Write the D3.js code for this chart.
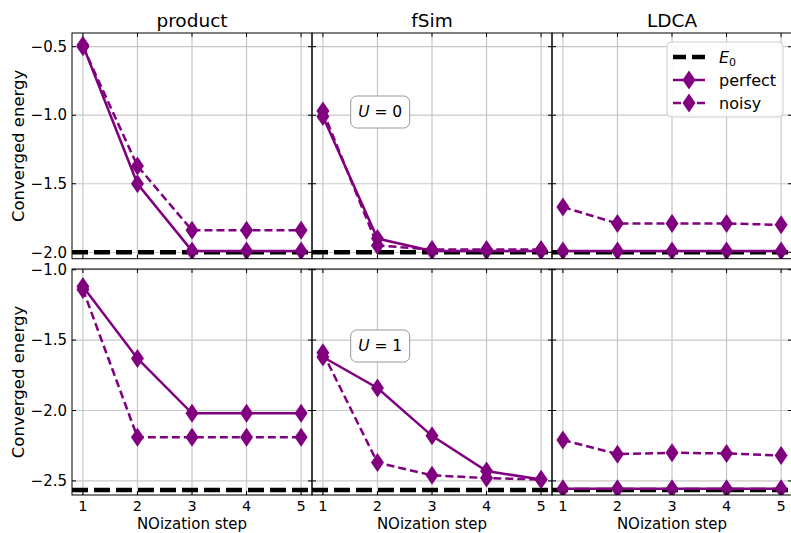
<!DOCTYPE html>
<html><head><meta charset="utf-8">
<script src="https://cdn.jsdelivr.net/npm/d3@7"></script>
<style>body{margin:0;background:#fff}svg{font-family:"DejaVu Sans",sans-serif}</style>
</head><body><svg id="c" width="791" height="533"></svg>
<script>
const steps = [1, 2, 3, 4, 5];
const methods = ["product", "fSim", "LDCA"];
const uLabels = ["0", "1"];
const groundEnergy = [-2.0, -2.565];
const yTicksTop = [-0.5, -1.0, -1.5, -2.0];
const yTicksBottom = [-1.0, -1.5, -2.0, -2.5];
// U = 0
const u0Perfect = [
  [-0.49, -1.50, -1.99, -1.99, -1.99],
  [-1.01, -1.90, -1.99, -1.99, -1.99],
  [-1.99, -1.99, -1.99, -1.99, -1.99]
];
const u0Noisy = [
  [-0.50, -1.37, -1.84, -1.84, -1.84],
  [-0.97, -1.95, -1.98, -1.98, -1.98],
  [-1.67, -1.79, -1.79, -1.79, -1.80]
];
// U = 1
const u1Perfect = [
  [-1.12, -1.63, -2.02, -2.02, -2.02],
  [-1.62, -1.84, -2.18, -2.43, -2.49],
  [-2.555, -2.555, -2.555, -2.555, -2.555]
];
const u1Noisy = [
  [-1.14, -2.19, -2.19, -2.19, -2.19],
  [-1.59, -2.37, -2.46, -2.48, -2.49],
  [-2.21, -2.31, -2.30, -2.305, -2.32]
];

const purple = "#800080";
const svg = d3.select("#c");
const colX = [72, 312, 552];
const panelW = 240;
const rows = [
  {top: 33, bottom: 258.7, domain: [-2.047, -0.40], ticks: yTicksTop, perfect: u0Perfect, noisy: u0Noisy},
  {top: 269, bottom: 495, domain: [-2.6, -0.995], ticks: yTicksBottom, perfect: u1Perfect, noisy: u1Noisy}
];
const fmt = d => d3.format(".1f")(d).replace("-", "\u2212");
const diamond = (w, h) => `M0,${-h/2}L${w/2},0L0,${h/2}L${-w/2},0Z`;

rows.forEach((row, r) => {
  const y = d3.scaleLinear().domain(row.domain).range([row.bottom, row.top]);
  methods.forEach((m, c) => {
    const x = d3.scaleLinear().domain([0.8, 5.2]).range([colX[c], colX[c] + panelW]);
    const g = svg.append("g");
    const clipId = `clip${r}${c}`;
    svg.append("clipPath").attr("id", clipId).append("rect")
      .attr("x", colX[c]).attr("y", row.top).attr("width", panelW).attr("height", row.bottom - row.top);
    // grid
    g.selectAll(".gx").data(steps).enter().append("line")
      .attr("x1", d => x(d)).attr("x2", d => x(d)).attr("y1", row.top).attr("y2", row.bottom)
      .attr("stroke", "#c8c8c8").attr("stroke-width", 1.2);
    g.selectAll(".gy").data(row.ticks).enter().append("line")
      .attr("x1", colX[c]).attr("x2", colX[c] + panelW).attr("y1", d => y(d)).attr("y2", d => y(d))
      .attr("stroke", "#c8c8c8").attr("stroke-width", 1.2);
    const pg = g.append("g").attr("clip-path", `url(#${clipId})`);
    // E0
    pg.append("line").attr("x1", colX[c]).attr("x2", colX[c] + panelW)
      .attr("y1", y(groundEnergy[r])).attr("y2", y(groundEnergy[r]))
      .attr("stroke", "#000").attr("stroke-width", 4.5).attr("stroke-dasharray", "16,6");
    const line = d3.line().x((d, i) => x(steps[i])).y(d => y(d));
    [[row.perfect[c], null], [row.noisy[c], "8,4"]].forEach(([vals, dash]) => {
      pg.append("path").attr("d", line(vals)).attr("fill", "none").attr("stroke", purple)
        .attr("stroke-width", 2.5).attr("stroke-dasharray", dash);
      pg.selectAll(null).data(vals).enter().append("path")
        .attr("d", diamond(13, 19))
        .attr("transform", (d, i) => `translate(${x(steps[i])},${y(d)})`)
        .attr("fill", purple);
    });
    // ticks (inward)
    row.ticks.forEach(t => {
      g.append("line").attr("x1", colX[c]).attr("x2", colX[c] + 4).attr("y1", y(t)).attr("y2", y(t)).attr("stroke", "#000");
      g.append("line").attr("x1", colX[c] + panelW - 4).attr("x2", colX[c] + panelW).attr("y1", y(t)).attr("y2", y(t)).attr("stroke", "#000");
    });
    steps.forEach(s => {
      g.append("line").attr("x1", x(s)).attr("x2", x(s)).attr("y1", row.bottom).attr("y2", row.bottom - 4).attr("stroke", "#000");
      g.append("line").attr("x1", x(s)).attr("x2", x(s)).attr("y1", row.top).attr("y2", row.top + 4).attr("stroke", "#000");
    });
    // frame
    g.append("rect").attr("x", colX[c]).attr("y", row.top).attr("width", panelW).attr("height", row.bottom - row.top)
      .attr("fill", "none").attr("stroke", "#000").attr("stroke-width", 1);
    if (c === 0) {
      row.ticks.forEach(t => {
        g.append("text").attr("x", colX[c] - 5).attr("y", y(t)).attr("dy", "0.35em")
          .attr("text-anchor", "end").attr("font-size", 15).text(fmt(t));
      });
      svg.append("text").attr("transform", `translate(24,${(row.top + row.bottom) / 2}) rotate(-90)`)
        .attr("text-anchor", "middle").attr("font-size", 16.5).text("Converged energy");
    }
    if (r === 0) {
      svg.append("text").attr("x", colX[c] + panelW / 2).attr("y", 27).attr("text-anchor", "middle")
        .attr("font-size", 18.5).text(m);
    }
    if (r === 1) {
      steps.forEach(s => {
        g.append("text").attr("x", x(s)).attr("y", 510.5).attr("text-anchor", "middle")
          .attr("font-size", 14.5).text(s);
      });
      svg.append("text").attr("x", colX[c] + panelW / 2).attr("y", 529).attr("text-anchor", "middle")
        .attr("font-size", 15).text("NOization step");
    }
    if (c === 1) {
      const cx = x(2.05), cy = r === 0 ? 112 : 346;
      g.append("rect").attr("x", cx - 29.5).attr("y", cy - 16).attr("width", 59).attr("height", 32)
        .attr("rx", 6).attr("fill", "#fff").attr("stroke", "#999").attr("stroke-width", 1);
      const t = g.append("text").attr("x", cx).attr("y", cy).attr("dy", "0.35em").attr("text-anchor", "middle").attr("font-size", 15.5);
      t.append("tspan").attr("font-style", "italic").text("U");
      t.append("tspan").text(" = " + uLabels[r]);
    }
    if (r === 0 && c === 2) {
      const lg = svg.append("g");
      lg.append("rect").attr("x", 667).attr("y", 42).attr("width", 116).attr("height", 75).attr("rx", 4)
        .attr("fill", "#fff").attr("fill-opacity", 0.85).attr("stroke", "#ccc");
      const entries = [
        {y: 57, label: "E0"}, {y: 80, label: "perfect"}, {y: 103, label: "noisy"}
      ];
      lg.append("line").attr("x1", 673).attr("x2", 705).attr("y1", entries[0].y).attr("y2", entries[0].y)
        .attr("stroke", "#000").attr("stroke-width", 4.5).attr("stroke-dasharray", "13,6");
      lg.append("line").attr("x1", 673).attr("x2", 705).attr("y1", entries[1].y).attr("y2", entries[1].y)
        .attr("stroke", purple).attr("stroke-width", 2.5);
      lg.append("line").attr("x1", 673).attr("x2", 705).attr("y1", entries[2].y).attr("y2", entries[2].y)
        .attr("stroke", purple).attr("stroke-width", 2.5).attr("stroke-dasharray", "8,4");
      [1, 2].forEach(i => lg.append("path").attr("d", diamond(13, 19))
        .attr("transform", `translate(689,${entries[i].y})`).attr("fill", purple));
      const t0 = lg.append("text").attr("x", 719).attr("y", entries[0].y).attr("dy", "0.35em").attr("font-size", 16);
      t0.append("tspan").attr("font-style", "italic").text("E");
      t0.append("tspan").attr("font-size", 11).attr("dy", "0.3em").text("0");
      lg.append("text").attr("x", 719).attr("y", entries[1].y).attr("dy", "0.35em").attr("font-size", 16).text("perfect");
      lg.append("text").attr("x", 719).attr("y", entries[2].y).attr("dy", "0.35em").attr("font-size", 16).text("noisy");
    }
  });
});
</script></body></html>
